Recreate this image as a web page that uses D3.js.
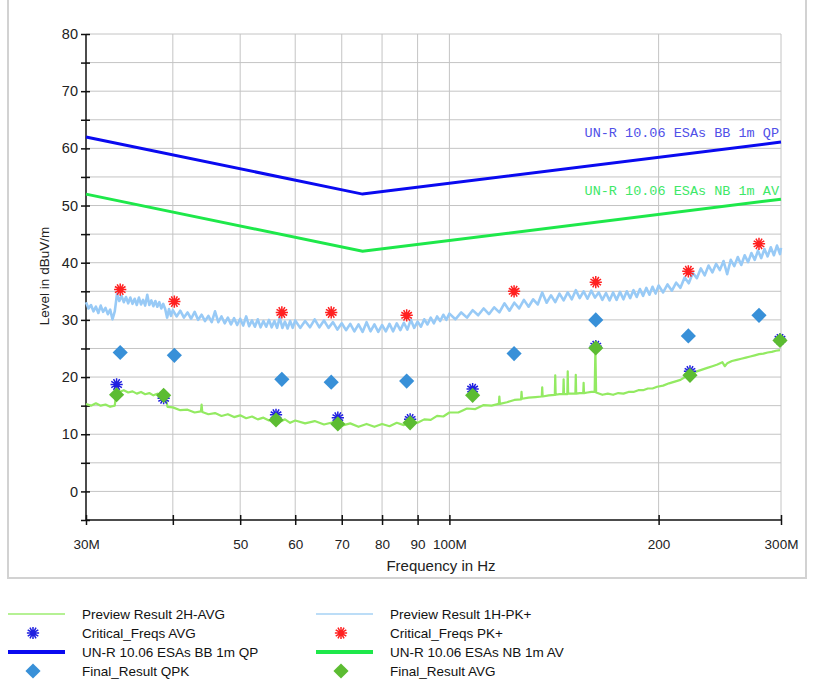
<!DOCTYPE html>
<html>
<head>
<meta charset="utf-8">
<script src="https://cdn.jsdelivr.net/npm/d3@7"></script>
<style>
  body { margin: 0; background: #fff; }
</style>
</head>
<body>
<div id="chartContainer"></div>
<script>
// frequency (MHz) / level (dBuV/m) pairs
const pkTrace = [
  [30,33.1],[30.25,32.0],[30.5,32.6],[30.75,31.5],[31,32.3],[31.25,31.2],[31.5,32.5],[31.75,31.4],[32,32.1],[32.25,31.0],
  [32.5,31.8],[32.75,30.1],[33,31.5],[33.25,34.6],[33.5,33.3],[33.75,34.2],[34,33.1],[34.25,34.0],[34.5,32.9],[34.75,33.9],
  [35,32.8],[35.25,33.7],[35.5,32.6],[35.75,33.9],[36,32.7],[36.25,33.5],[36.5,32.5],[36.75,34.4],[37,32.6],[37.25,33.4],
  [37.5,32.4],[37.75,33.3],[38,32.3],[38.25,33.1],[38.5,32.0],[38.75,32.8],[39,31.9],[39.25,30.4],[39.5,31.9],[39.75,30.7],
  [40,31.7],[40.5,30.6],[41,31.6],[41.5,30.4],[42,31.3],[42.5,30.2],[43,31.4],[43.5,30.0],[44,30.9],[44.5,29.8],
  [45,30.7],[45.5,29.6],[46,31.5],[46.5,29.6],[47,30.6],[47.5,29.4],[48,30.4],[48.5,29.2],[49,30.3],[49.5,29.1],
  [50,30.2],[50.5,29.0],[51,30.6],[51.5,28.9],[52,29.9],[52.5,28.8],[53,30.1],[53.5,28.7],[54,29.8],[54.5,28.8],
  [55,30.0],[55.5,28.7],[56,29.8],[56.5,28.6],[57,30.4],[57.5,28.6],[58,29.7],[58.5,28.5],[59,29.8],[59.5,28.6],
  [60,29.9],[61,28.6],[62,29.8],[63,28.7],[64,30.1],[65,28.7],[66,29.9],[67,28.6],[68,29.6],[69,28.3],
  [70,29.4],[71,28.2],[72,29.3],[73,28.0],[74,29.2],[75,27.9],[76,29.6],[77,28.0],[78,29.2],[79,27.9],
  [80,29.1],[81,28.0],[82,29.3],[83,28.0],[84,29.4],[85,28.2],[86,29.5],[87,28.3],[88,30.0],[89,28.6],
  [90,29.7],[91,28.8],[92,30.1],[93,29.2],[94,30.4],[95,29.4],[96,30.6],[97,29.8],[98,30.9],[99,30.0],
  [100,31.1],[102,30.1],[104,31.3],[106,30.4],[108,31.7],[110,30.8],[112,32.0],[114,31.0],[116,32.2],[118,31.3],
  [120,32.9],[122,31.6],[124,33.0],[126,32.0],[128,33.5],[130,32.3],[132,33.6],[134,32.7],[136,34.8],[138,33.0],
  [140,34.3],[142,33.1],[144,34.6],[146,33.4],[148,34.8],[150,33.6],[152,35.2],[154,33.8],[156,35.0],[158,33.7],
  [160,35.1],[162,33.9],[164,34.8],[166,33.5],[168,34.7],[170,33.4],[172,34.8],[174,33.5],[176,34.9],[178,33.6],
  [180,35.0],[182,33.8],[184,35.2],[186,34.0],[188,35.4],[190,34.2],[192,35.6],[194,34.4],[196,35.8],[198,34.6],
  [200,36.0],[203,34.8],[206,36.2],[209,35.1],[212,36.5],[215,35.6],[218,37.4],[221,36.4],[224,38.2],[227,37.3],
  [230,39.0],[233,37.8],[236,39.5],[239,38.3],[242,39.8],[245,38.7],[248,40.3],[251,38.0],[254,40.5],[257,39.4],
  [260,41.0],[263,39.6],[266,41.3],[269,40.1],[272,41.7],[275,40.5],[278,42.1],[281,40.8],[284,42.4],[287,41.1],
  [290,42.7],[293,41.3],[296,43.0],[299,41.5],[300,42.6]
];

const avgTrace = [
  [30,15.3],[30.5,15.0],[31,15.4],[31.5,15.0],[32,15.2],[32.5,14.8],[33,15.0],[33.2,17.8],[33.5,17.4],[34,17.7],
  [34.5,17.3],[35,17.5],[35.5,17.1],[36,17.4],[36.5,17.0],[37,17.2],[37.5,16.8],[38,17.1],[38.5,16.7],[39,16.9],
  [39.3,14.8],[40,14.7],[41,14.2],[42,14.3],[43,13.8],[43.9,14.0],[44,15.2],[44.1,13.9],[45,13.5],[46,13.7],
  [47,13.2],[48,13.5],[49,13.0],[50,13.3],[51,12.8],[52,13.1],[53,12.6],[54,12.9],[55,12.4],[56,12.8],
  [57,12.2],[58,12.6],[59,12.0],[60,12.4],[62,11.9],[64,12.3],[66,11.7],[68,12.1],[70,11.5],[72,11.9],
  [74,11.3],[76,11.8],[78,11.3],[80,11.8],[82,11.4],[84,12.0],[86,11.6],[88,12.3],[90,12.0],[92,12.6],
  [94,12.5],[96,13.2],[98,13.1],[100,13.8],[103,13.8],[106,14.5],[109,14.4],[112,15.1],[115,15.0],[117.8,15.3],
  [118,16.6],[118.2,15.3],[121,15.6],[124,16.0],[126.8,16.1],[127,17.4],[127.2,16.2],[130,16.4],[133,16.5],[135.8,16.6],
  [136,18.2],[136.2,16.6],[139,16.8],[141.8,16.9],[142,20.3],[142.2,16.9],[144,17.0],[145.8,17.0],[146,19.6],[146.2,17.0],
  [147.8,17.0],[148,21.0],[148.2,17.1],[150,17.1],[151.8,17.1],[152,20.4],[152.2,17.1],[154,17.2],[155.8,17.2],[156,19.0],
  [156.2,17.2],[158,17.3],[160,17.4],[161.8,17.4],[162.2,25.0],[162.6,17.3],[166,16.9],[169,17.1],[172,16.9],[175,17.2],
  [178,17.1],[181,17.4],[184,17.4],[187,17.7],[190,17.7],[193,18.0],[196,18.0],[199,18.3],[203,18.5],[207,18.9],
  [211,19.2],[215,19.5],[219,20.1],[223,20.5],[227,21.0],[231,21.3],[235,21.6],[239,21.9],[243,22.2],[247,22.6],
  [249,21.9],[251,22.4],[255,22.8],[259,23.0],[263,23.2],[267,23.4],[271,23.6],[275,23.8],[279,24.0],[283,24.1],
  [287,24.3],[291,24.4],[295,24.6],[299,24.7]
];

const limitBBQP = [[30,62],[75,52],[300,61.1]];
const limitNBAV = [[30,52],[75,42],[300,51.1]];

const critPK  = [[33.6,35.3],[40.2,33.2],[57.4,31.3],[67.6,31.3],[86.8,30.8],[123.9,35.0],[162.4,36.6],[220.7,38.5],[278.9,43.3]];
const finalQPK = [[33.6,24.3],[40.2,23.8],[57.4,19.6],[67.6,19.1],[86.8,19.3],[123.9,24.1],[162.4,30.0],[220.7,27.2],[278.9,30.8]];
const critAVG = [[33.2,18.7],[38.8,16.3],[56.3,13.4],[69.1,12.9],[87.8,12.6],[108,17.9],[162.4,25.4],[221.9,21.0],[299,26.6]];
const finalAVG = [[33.2,16.9],[38.8,16.8],[56.3,12.5],[69.1,11.8],[87.8,12.0],[108,16.8],[162.4,25.1],[221.9,20.3],[299,26.4]];

const xTicks = [30,40,50,60,70,80,90,100,200,300];
const xTickLabels = {30:"30M",50:"50",60:"60",70:"70",80:"80",90:"90",100:"100M",200:"200",300:"300M"};
const yTicks = [0,10,20,30,40,50,60,70,80];

const legendItems = [
  {label:"Preview Result 2H-AVG", kind:"line", color:"#9ced70", w:1.5},
  {label:"Preview Result 1H-PK+", kind:"line", color:"#a6d2f4", w:1.5},
  {label:"Critical_Freqs AVG", kind:"star", color:"#1f1fe0"},
  {label:"Critical_Freqs PK+", kind:"star", color:"#ff2020"},
  {label:"UN-R 10.06 ESAs BB 1m QP", kind:"line", color:"#0a0af0", w:4},
  {label:"UN-R 10.06 ESAs NB 1m AV", kind:"line", color:"#1ee84a", w:4},
  {label:"Final_Result QPK", kind:"diamond", color:"#3890d8"},
  {label:"Final_Result AVG", kind:"diamond", color:"#5cbc32"}
];

const width = 814;
const height = 682;
const marginLeft = 86;
const plotRight = 781;
const plotTop = 34;
const plotBottom = 520;
const sans = "Liberation Sans, Arial, sans-serif";

const x = d3.scaleLog().domain([30, 300]).range([marginLeft, plotRight]);
const y = d3.scaleLinear().domain([-5, 80]).range([plotBottom, plotTop]);

const svg = d3.create("svg")
    .attr("width", width)
    .attr("height", height)
    .attr("viewBox", [0, 0, width, height])
    .attr("font-family", sans);

document.getElementById('chartContainer').appendChild(svg.node());

// outer panel frame
svg.append("rect")
    .attr("x", 8).attr("y", -2)
    .attr("width", 798).attr("height", 580)
    .attr("fill", "none")
    .attr("stroke", "#d2d2d2")
    .attr("stroke-width", 2);

// grid
const grid = svg.append("g").attr("stroke", "#c4c4c4").attr("stroke-width", 1);
grid.selectAll(".hg")
    .data(d3.range(0, 81, 5))
    .join("line")
    .attr("x1", marginLeft).attr("x2", plotRight)
    .attr("y1", d => y(d)).attr("y2", d => y(d));
grid.selectAll(".vg")
    .data(xTicks.slice(1))
    .join("line")
    .attr("x1", d => x(d)).attr("x2", d => x(d))
    .attr("y1", plotTop).attr("y2", plotBottom);

// axes
const yAxis = svg.append("g")
    .attr("transform", `translate(${marginLeft},0)`)
    .call(d3.axisLeft(y).tickValues(d3.range(-5, 81, 5)).tickSize(5)
        .tickFormat(d => yTicks.includes(d) ? d : ""));
yAxis.select(".domain").attr("d", `M0,${plotTop}V${plotBottom}`).attr("stroke", "#111").attr("stroke-width", 1.5);
yAxis.selectAll(".tick line").attr("x2", 4).attr("x1", -5).attr("stroke", "#111").attr("stroke-width", 1.5);
yAxis.selectAll(".tick text")
    .attr("x", -8)
    .attr("font-size", 14.5)
    .attr("font-family", sans)
    .attr("fill", "#222");

const xAxis = svg.append("g")
    .attr("transform", `translate(0,${plotBottom})`)
    .call(d3.axisBottom(x).tickValues(xTicks).tickSize(5)
        .tickFormat(d => xTickLabels[d] || ""));
xAxis.select(".domain").attr("d", `M${marginLeft},0H${plotRight}`).attr("stroke", "#111").attr("stroke-width", 1.5);
xAxis.selectAll(".tick line").attr("y1", -5).attr("y2", 5).attr("stroke", "#111").attr("stroke-width", 1.5);
xAxis.selectAll(".tick text")
    .attr("y", 19)
    .attr("font-size", 13.5)
    .attr("font-family", sans)
    .attr("fill", "#222");

// axis titles
svg.append("text")
    .attr("transform", "translate(49,276) rotate(-90)")
    .attr("text-anchor", "middle")
    .attr("font-size", 13.5)
    .attr("fill", "#222")
    .text("Level in dBuV/m");

svg.append("text")
    .attr("x", 441).attr("y", 571)
    .attr("text-anchor", "middle")
    .attr("font-size", 15)
    .attr("fill", "#222")
    .text("Frequency in Hz");

const line = d3.line()
    .x(d => x(d[0]))
    .y(d => y(d[1]));

const plot = svg.append("g");

// limit lines
plot.append("path")
    .attr("fill", "none").attr("stroke", "#0a0af0").attr("stroke-width", 3)
    .attr("d", line(limitBBQP));
plot.append("path")
    .attr("fill", "none").attr("stroke", "#1ee84a").attr("stroke-width", 3)
    .attr("d", line(limitNBAV));

svg.append("text")
    .attr("x", 779).attr("y", 137)
    .attr("text-anchor", "end")
    .attr("font-family", "Liberation Mono, monospace")
    .attr("font-size", 13.5)
    .attr("fill", "#5050e8")
    .text("UN-R 10.06 ESAs BB 1m QP");
svg.append("text")
    .attr("x", 779).attr("y", 195)
    .attr("text-anchor", "end")
    .attr("font-family", "Liberation Mono, monospace")
    .attr("font-size", 13.5)
    .attr("fill", "#3ee868")
    .text("UN-R 10.06 ESAs NB 1m AV");

// preview traces
plot.append("path")
    .attr("fill", "none").attr("stroke", "#98caf6").attr("stroke-width", 2.6)
    .attr("stroke-linejoin", "round")
    .attr("d", line(pkTrace));
plot.append("path")
    .attr("fill", "none").attr("stroke", "#93ea62").attr("stroke-width", 2.2)
    .attr("stroke-linejoin", "round")
    .attr("d", line(avgTrace));

// custom asterisk symbol
const asterisk = {
    draw(ctx, size) {
        const r = Math.sqrt(size) / 2;
        for (let i = 0; i < 6; i++) {
            const a = i * Math.PI / 6;
            ctx.moveTo(r * Math.cos(a), r * Math.sin(a));
            ctx.lineTo(-r * Math.cos(a), -r * Math.sin(a));
        }
    }
};
const starPath = d3.symbol().type(asterisk).size(150)();
const diamondPath = d3.symbol().type(d3.symbolSquare).size(115)();

function drawStars(data, color) {
    plot.append("g").selectAll("path")
        .data(data)
        .join("path")
        .attr("transform", d => `translate(${x(d[0])},${y(d[1])})`)
        .attr("d", starPath)
        .attr("fill", "none")
        .attr("stroke", color)
        .attr("stroke-width", 1.5);
}
function drawDiamonds(data, color) {
    plot.append("g").selectAll("path")
        .data(data)
        .join("path")
        .attr("transform", d => `translate(${x(d[0])},${y(d[1])}) rotate(45)`)
        .attr("d", diamondPath)
        .attr("fill", color);
}

drawDiamonds(finalQPK, "#3890d8");
drawStars(critPK, "#ff2020");
drawStars(critAVG, "#1f1fe0");
drawDiamonds(finalAVG, "#5cbc32");

// legend
const legend = svg.append("g");
const rowY = [614, 633, 652, 671];
legendItems.forEach((item, i) => {
    const col = i % 2;
    const row = Math.floor(i / 2);
    const sx = col === 0 ? 8 : 316;
    const g = legend.append("g").attr("transform", `translate(${sx},${rowY[row]})`);
    if (item.kind === "line") {
        g.append("line")
            .attr("x1", 0).attr("x2", 57)
            .attr("stroke", item.color)
            .attr("stroke-width", item.w);
    } else if (item.kind === "star") {
        g.append("path")
            .attr("transform", "translate(25,0)")
            .attr("d", starPath)
            .attr("fill", "none")
            .attr("stroke", item.color)
            .attr("stroke-width", 1.5);
    } else {
        g.append("path")
            .attr("transform", "translate(25,0) rotate(45)")
            .attr("d", diamondPath)
            .attr("fill", item.color);
    }
    g.append("text")
        .attr("x", 74)
        .attr("dy", "0.35em")
        .attr("font-size", 13.5)
        .attr("fill", "#111")
        .text(item.label);
});
</script>
</body>
</html>
